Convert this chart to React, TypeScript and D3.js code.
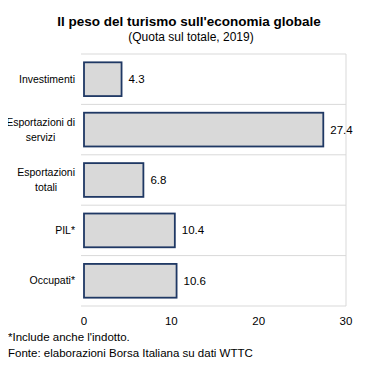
import React, { useEffect, useRef } from "react";
import * as d3 from "d3";

const categories = ["Investimenti", "Esportazioni di|servizi", "Esportazioni|totali", "PIL*", "Occupati*"];
const values = [4.3, 27.4, 6.8, 10.4, 10.6];
const ticks = [0, 10, 20, 30];

const title = "Il peso del turismo sull'economia globale";
const subtitle = "(Quota sul totale, 2019)";
const notes = ["*Include anche l'indotto.", "Fonte: elaborazioni Borsa Italiana su dati WTTC"];

const App = () => {
  const svgRef = useRef<SVGSVGElement>(null);

  useEffect(() => {
    const w = 376;
    const h = 365;
    const font = "'Liberation Sans', Arial, sans-serif";
    const svg = d3.select(svgRef.current).attr("width", w).attr("height", h);
    svg.selectAll("*").remove();

    const x = d3.scaleLinear().domain([0, 30]).range([84, 346]);
    const y = d3
      .scaleBand()
      .domain(categories)
      .range([54, 306])
      .paddingInner(0.33)
      .paddingOuter(0.165);
    const gap = (y.step() * y.paddingInner()) / 2;

    svg
      .append("text")
      .attr("x", 189)
      .attr("y", 26)
      .attr("text-anchor", "middle")
      .style("font", `bold 13.5px ${font}`)
      .text(title);
    svg
      .append("text")
      .attr("x", 191)
      .attr("y", 41)
      .attr("text-anchor", "middle")
      .style("font", `12px ${font}`)
      .text(subtitle);

    // category gridlines
    const bounds = categories.map((c) => y(c)! - gap).concat([y(categories[4])! + y.bandwidth() + gap]);
    svg
      .selectAll(".grid")
      .data(bounds)
      .join("line")
      .attr("x1", 81)
      .attr("x2", x(30))
      .attr("y1", (d) => d)
      .attr("y2", (d) => d)
      .attr("stroke", "#d9d9d9");
    svg
      .append("line")
      .attr("x1", x(30))
      .attr("x2", x(30))
      .attr("y1", bounds[0])
      .attr("y2", bounds[5])
      .attr("stroke", "#d9d9d9");

    svg
      .selectAll(".bar")
      .data(values)
      .join("rect")
      .attr("x", x(0))
      .attr("y", (v, i) => y(categories[i])!)
      .attr("width", (v) => x(v) - x(0))
      .attr("height", y.bandwidth())
      .attr("fill", "#d9d9d9")
      .attr("stroke", "#1f3864")
      .attr("stroke-width", 1.8);

    svg
      .selectAll(".val")
      .data(values)
      .join("text")
      .attr("x", (v) => x(v) + 7)
      .attr("y", (v, i) => y(categories[i])! + y.bandwidth() / 2)
      .attr("dy", "0.35em")
      .style("font", `11.5px ${font}`)
      .text((v) => v.toFixed(1));

    // category labels: each line centred, block right-aligned at x=75
    categories.forEach((c) => {
      const lines = c.split("|");
      const cy = y(c)! + y.bandwidth() / 2;
      const t = svg.append("text").style("font", `10.5px ${font}`).attr("text-anchor", "middle");
      const spans = lines.map((l, j) =>
        t
          .append("tspan")
          .attr("y", cy + (j - (lines.length - 1) / 2) * 15)
          .attr("dy", "0.35em")
          .text(l)
      );
      const maxW = d3.max(spans, (s) => (s.node() as SVGTSpanElement).getComputedTextLength()) || 0;
      spans.forEach((s) => s.attr("x", Math.max(75 - maxW / 2, maxW / 2 + 2)));
    });

    svg
      .selectAll(".tick")
      .data(ticks)
      .join("text")
      .attr("x", (d) => x(d))
      .attr("y", 325)
      .attr("text-anchor", "middle")
      .style("font", `11.5px ${font}`)
      .text((d) => d);

    svg
      .selectAll(".note")
      .data(notes)
      .join("text")
      .attr("x", 8)
      .attr("y", (d, i) => 341 + i * 16)
      .style("font", `11.5px ${font}`)
      .text((d) => d);
  }, []);

  return (
    <div style={{ margin: -8 }}>
      <svg ref={svgRef} style={{ display: "block", background: "#fff" }}></svg>
    </div>
  );
};

export default App;
